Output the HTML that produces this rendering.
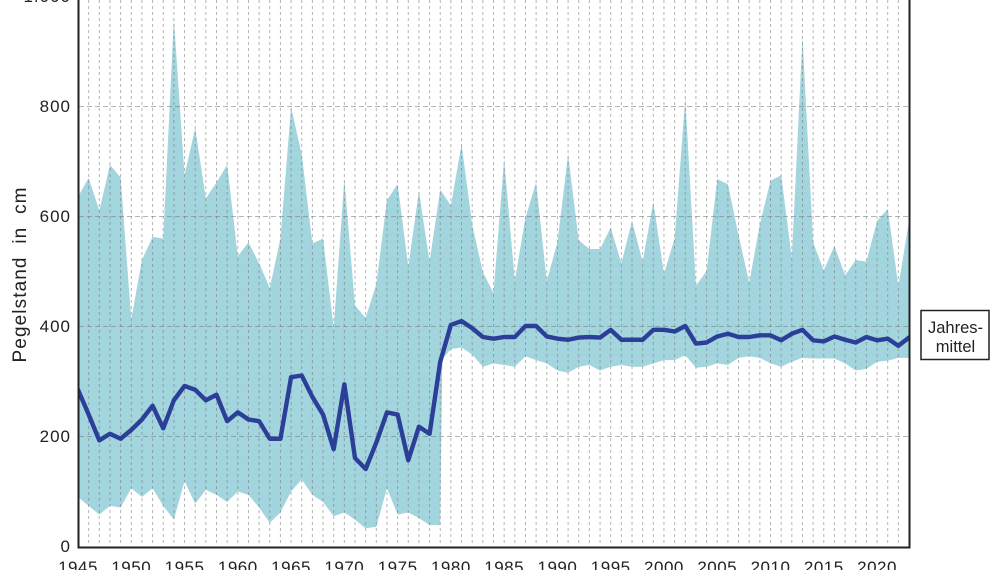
<!DOCTYPE html>
<html>
<head>
<meta charset="utf-8">
<style>
  html,body{margin:0;padding:0;background:#fff;}
  body{width:1000px;height:570px;overflow:hidden;}
  svg{display:block;font-family:"Liberation Sans",Arial,sans-serif;}
</style>
</head>
<body>
<svg width="1000" height="570" viewBox="0 0 1000 570" xmlns="http://www.w3.org/2000/svg">
  <rect x="0" y="0" width="1000" height="570" fill="#fff"/>

  <!-- band -->
  <g transform="translate(78 546) scale(10.654 -0.55)">
    <polygon fill="#a3d5de" stroke="none" points="0,635 1,669 2,610 3,693 4,670 5,412 6,520 7,562 8,559 9,958 10,674 11,760 12,632 13,661 14,693 15,527 16,552 17,514 18,469 19,559 20,798 21,712 22,550 23,559 24,396 25,667 26,437 27,415 28,476 29,629 30,658 31,508 32,645 33,517 34,648 35,619 36,731 37,584 38,498 39,460 40,703 41,482 42,597 43,661 44,482 45,552 46,712 47,556 48,540 49,540 50,579 51,514 52,591 53,517 54,626 55,495 56,559 57,814 58,473 59,500 60,667 61,658 62,565 63,479 64,585 65,664 66,674 67,524 68,926 69,552 70,501 71,546 72,492 73,520 74,517 75,591 76,613 77,473 78,591 78,342 77,342 76,337 75,335 74,322 73,319 72,332 71,341 70,341 69,341 68,342 67,335 66,326 65,332 64,342 63,345 62,342 61,329 60,332 59,326 58,324 57,347 56,338 55,338 54,332 53,326 52,326 51,329 50,326 49,319 48,329 47,326 46,315 45,319 44,332 43,338 42,345 41,326 40,329 39,332 38,326 37,348 36,361 35,358 34.2,340 34,38 33,38 32,51 31,61 30,57 29,105 28,35 27,32 26,48 25,61 24,54 23,80 22,93 21,121 20,99 19,61 18,42 17,70 16,93 15,99 14,80 13,93 12,102 11,77 10,118 9,48 8,73 7,105 6,89 5,105 4,70 3,73 2,57 1,73 0,89"/>
  </g>

  <!-- grid -->
  <g stroke="#777" stroke-opacity="0.55" stroke-width="1" fill="none">
    <path stroke-dasharray="3 3" d="M88.65 0V546M99.31 0V546M109.96 0V546M120.62 0V546M131.27 0V546M141.92 0V546M152.58 0V546M163.23 0V546M173.89 0V546M184.54 0V546M195.19 0V546M205.85 0V546M216.5 0V546M227.16 0V546M237.81 0V546M248.46 0V546M259.12 0V546M269.77 0V546M280.43 0V546M291.08 0V546M301.73 0V546M312.39 0V546M323.04 0V546M333.7 0V546M344.35 0V546M355 0V546M365.66 0V546M376.31 0V546M386.97 0V546M397.62 0V546M408.27 0V546M418.93 0V546M429.58 0V546M440.24 0V546M450.89 0V546M461.54 0V546M472.2 0V546M482.85 0V546M493.51 0V546M504.16 0V546M514.81 0V546M525.47 0V546M536.12 0V546M546.78 0V546M557.43 0V546M568.08 0V546M578.74 0V546M589.39 0V546M600.05 0V546M610.7 0V546M621.35 0V546M632.01 0V546M642.66 0V546M653.32 0V546M663.97 0V546M674.62 0V546M685.28 0V546M695.93 0V546M706.59 0V546M717.24 0V546M727.89 0V546M738.55 0V546M749.2 0V546M759.86 0V546M770.51 0V546M781.16 0V546M791.82 0V546M802.47 0V546M813.13 0V546M823.78 0V546M834.43 0V546M845.09 0V546M855.74 0V546M866.4 0V546M877.05 0V546M887.7 0V546M898.36 0V546"/>
    <path stroke-dasharray="5 3" d="M79 436.5H909M79 326.5H909M79 216.5H909M79 106.5H909"/>
  </g>

  <!-- mean line -->
  <clipPath id="pc"><rect x="79" y="0" width="830" height="546"/></clipPath>
  <g clip-path="url(#pc)">
    <g transform="translate(78 546) scale(10.654 -0.55)">
      <polyline fill="none" stroke="#2c3f98" stroke-width="4.4" stroke-linejoin="round" stroke-linecap="round" vector-effect="non-scaling-stroke" points="0,284 1,239 2,192 3,204 4,195 5,211 6,230 7,255 8,214 9,265 10,291 11,284 12,265 13,275 14,227 15,243 16,230 17,227 18,195 19,195 20,307 21,310 22,271 23,239 24,176 25,294 26,160 27,140 28,188 29,243 30,239 31,156 32,217 33,204 34,335 35,402 36,409 37,396 38,380 39,377 40,380 41,380 42,400 43,400 44,381 45,377 46,375 47,379 48,380 49,379 50,393 51,375 52,375 53,375 54,393 55,393 56,390 57,400 58,368 59,370 60,381 61,386 62,380 63,380 64,383 65,383 66,374 67,386 68,393 69,374 70,372 71,381 72,375 73,370 74,380 75,374 76,377 77,364 78,379"/>
    </g>
  </g>

  <!-- axes -->
  <g stroke="#222" stroke-width="2" fill="none">
    <path d="M78.5 0V547.5H909.5V0"/>
  </g>

  <!-- y tick labels -->
  <g font-size="17" fill="#222" text-anchor="end" letter-spacing="1">
    <text x="71" y="552">0</text>
    <text x="71" y="442">200</text>
    <text x="71" y="332">400</text>
    <text x="71" y="222">600</text>
    <text x="71" y="112">800</text>
    <text x="71" y="2">1.000</text>
  </g>

  <!-- x tick labels -->
  <g font-size="17" fill="#222" text-anchor="middle" letter-spacing="0.5">
    <text x="78" y="573">1945</text>
    <text x="131.27" y="573">1950</text>
    <text x="184.54" y="573">1955</text>
    <text x="237.81" y="573">1960</text>
    <text x="291.08" y="573">1965</text>
    <text x="344.35" y="573">1970</text>
    <text x="397.62" y="573">1975</text>
    <text x="450.89" y="573">1980</text>
    <text x="504.16" y="573">1985</text>
    <text x="557.43" y="573">1990</text>
    <text x="610.7" y="573">1995</text>
    <text x="663.97" y="573">2000</text>
    <text x="717.24" y="573">2005</text>
    <text x="770.51" y="573">2010</text>
    <text x="823.78" y="573">2015</text>
    <text x="877.05" y="573">2020</text>
  </g>

  <!-- y axis title -->
  <text transform="translate(26 275) rotate(-90)" font-size="19" fill="#222" text-anchor="middle" textLength="175" lengthAdjust="spacing" xml:space="preserve">Pegelstand  in  cm</text>

  <!-- legend box -->
  <rect x="921" y="310.5" width="68" height="49" fill="#fff" stroke="#222" stroke-width="1.5"/>
  <g font-size="16.5" fill="#222" text-anchor="middle">
    <text x="955.5" y="333">Jahres-</text>
    <text x="955.5" y="352">mittel</text>
  </g>
</svg>
</body>
</html>
